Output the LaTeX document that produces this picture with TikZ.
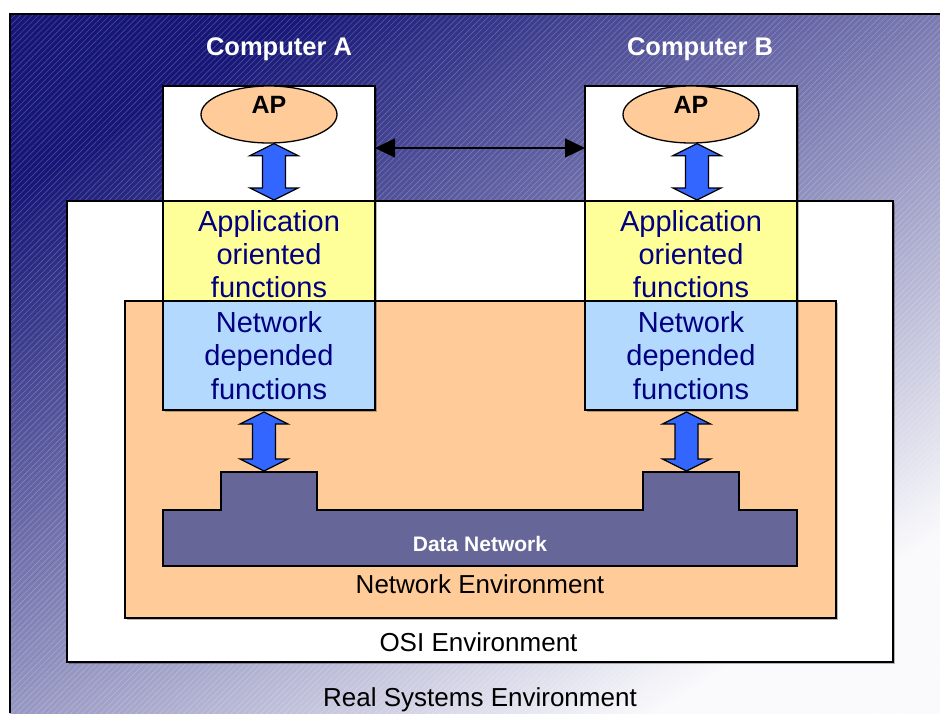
\documentclass[tikz,border=0pt]{standalone}
\usepackage{fontspec}
\setmainfont{Liberation Sans}
\usetikzlibrary{arrows.meta,shapes.geometric,patterns.meta,shadows,calc}

\definecolor{bgdark}{RGB}{22,22,120}
\definecolor{bgmid}{RGB}{160,160,194}
\definecolor{bglight}{RGB}{250,250,252}
\definecolor{navytext}{RGB}{0,0,128}
\definecolor{appyellow}{RGB}{255,255,153}
\definecolor{netblue}{RGB}{179,217,255}
\definecolor{envorange}{RGB}{255,204,153}
\definecolor{datanet}{RGB}{102,102,153}
\definecolor{arrowblue}{RGB}{51,102,255}

% two-headed block arrow between a top tip #1 and a bottom tip #2
\newcommand\blockarrow[2]{%
  \draw[bigarrow] ($(#1)$) -- ($(#1)+(24,12)$) -- ($(#1)+(11.5,12)$)
    -- ($(#2)+(11.5,-12)$) -- ($(#2)+(24,-12)$) -- ($(#2)$)
    -- ($(#2)+(-24,-12)$) -- ($(#2)+(-11.5,-12)$)
    -- ($(#1)+(-11.5,12)$) -- ($(#1)+(-24,12)$) -- cycle;}

\begin{document}
\begin{tikzpicture}[x=1pt,y=-1pt,
  outline/.style={draw=black, line width=1.3pt},
  shad/.style={drop shadow={shadow xshift=1.6pt, shadow yshift=-1.6pt, fill=black, opacity=0.28}},
  box/.style={outline, rectangle, anchor=north west, inner sep=0pt, outer sep=0pt},
  colbox/.style={box, minimum width=212, align=center, text=navytext,
                 font=\fontsize{29}{33.3}\selectfont},
  bigarrow/.style={outline, line width=1.2pt, fill=arrowblue, line join=miter},
  aptext/.style={font=\fontsize{25}{29}\selectfont\bfseries, anchor=base},
  comptext/.style={font=\fontsize{25.5}{30}\selectfont\bfseries, text=white, anchor=base},
  envtext/.style={font=\fontsize{26}{30}\selectfont, anchor=base},
]
\useasboundingbox (0,0) rectangle (940,713);

% real systems environment: diagonal gradient with fine hatching
\shade[shading=axis, top color=bgdark, middle color=bgmid, bottom color=bglight,
       shading angle=32] (10,14) rectangle (940,713);
\fill[pattern={Lines[angle=45,distance=4.2pt,line width=0.6pt]}, pattern color=white,
      opacity=0.22] (10,14) rectangle (940,713);
\draw[line width=1.6pt] (10,713) -- (10,14) -- (940,14);

% OSI and network environments
\node[box, shad, fill=white, minimum width=826, minimum height=461] (osi) at (67,201) {};
\node[box, shad, fill=envorange, minimum width=711, minimum height=317] (netenv) at (125,301) {};

% computer columns
\node[box, shad, fill=white, minimum width=212, minimum height=115] (compA) at (163,86) {};
\node[box, shad, fill=white, minimum width=212, minimum height=115] (compB) at (585,86) {};
\node[colbox, shad, fill=appyellow, minimum height=100] (appA) at (163,201) {\rule{0pt}{27.5pt}Application\\oriented\\functions};
\node[colbox, shad, fill=appyellow, minimum height=100] (appB) at (585,201) {\rule{0pt}{27.5pt}Application\\oriented\\functions};
\node[colbox, shad, fill=netblue, minimum height=109] (netA) at (163,301) {Network\\depended\\functions};
\node[colbox, shad, fill=netblue, minimum height=109] (netB) at (585,301) {Network\\depended\\functions};

% application processes
\node[ellipse, outline, fill=envorange, minimum width=136, minimum height=57, inner sep=0pt] (apA) at (269,114.5) {};
\node[ellipse, outline, fill=envorange, minimum width=136, minimum height=57, inner sep=0pt] (apB) at (691,114.5) {};
\node[aptext] (apAlabel) at (269,113) {AP};
\node[aptext] (apBlabel) at (691,113) {AP};

% data network
\draw[outline, fill=datanet, line join=miter]
  (163,510) -- (221,510) -- (221,472) -- (317,472) -- (317,510)
  -- (643,510) -- (643,472) -- (739,472) -- (739,510) -- (797,510)
  -- (797,566) -- (163,566) -- cycle;
\coordinate (bumpA) at (264,471);
\coordinate (bumpB) at (686.5,471);
\node[font=\fontsize{21}{25}\selectfont\bfseries, text=white, anchor=base] (dnlabel) at (480,551) {Data Network};

% block arrows between the layers
\coordinate (upA1) at ($(apA.south)+(5,0)$);
\coordinate (upA2) at ($(appA.north)+(5,-1)$);
\coordinate (upB1) at ($(apB.south)+(6,0)$);
\coordinate (upB2) at ($(appB.north)+(6,-1)$);
\coordinate (loA1) at ($(netA.south)+(-5,2)$);
\coordinate (loB1) at ($(netB.south)+(-4.5,2)$);
\blockarrow{upA1}{upA2}
\blockarrow{upB1}{upB2}
\blockarrow{loA1}{bumpA}
\blockarrow{loB1}{bumpB}

% peer-to-peer link
\draw[line width=1.3pt, {Triangle[length=20pt,width=19pt]}-{Triangle[length=20pt,width=19pt]}]
  (compA.east |- 0,148) -- (compB.west |- 0,148);

% captions
\node[comptext] (titleA) at (279,55.7) {Computer A};
\node[comptext] (titleB) at (700,55.7) {Computer B};
\node[envtext] (netenvlabel) at (480,593.3) {Network Environment};
\node[envtext] (osilabel) at (478.5,651.7) {OSI Environment};
\node[envtext] (reallabel) at (480,706) {Real Systems Environment};
\end{tikzpicture}
\end{document}
